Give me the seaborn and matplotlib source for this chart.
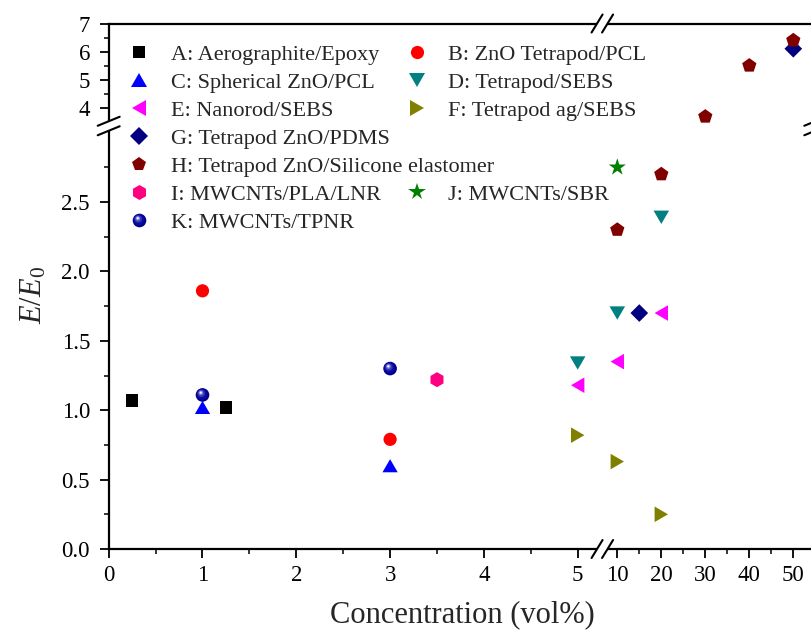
import numpy as np
import matplotlib
matplotlib.use("Agg")
import matplotlib.pyplot as plt
import matplotlib.transforms as mtransforms
from matplotlib.markers import MarkerStyle
from matplotlib.lines import Line2D
from matplotlib.path import Path
from matplotlib.patches import PathPatch
import seaborn as sns

# ---------------- data ----------------
a_x = [0.25, 1.25]
a_y = [1.07, 1.02]
b_x = [1, 3]
b_y = [1.86, 0.79]
c_x = [1, 3]
c_y = [1.02, 0.60]
d_x = [5, 10, 20]
d_y = [1.34, 1.70, 2.39]
e_x = [5, 10, 20]
e_y = [1.18, 1.35, 1.70]
f_x = [5, 10, 20]
f_y = [0.82, 0.63, 0.25]
g_x = [15, 50]
g_y = [1.70, 6.10]
h_x = [10, 20, 30, 40, 50]
h_y = [2.30, 2.70, 3.68, 5.50, 6.40]
i_x = [3.5]
i_y = [1.22]
j_x = [10]
j_y = [2.75]
k_x = [1, 3]
k_y = [1.11, 1.30]

labels = {
    "A": "A: Aerographite/Epoxy",
    "B": "B: ZnO Tetrapod/PCL",
    "C": "C: Spherical ZnO/PCL",
    "D": "D: Tetrapod/SEBS",
    "E": "E: Nanorod/SEBS",
    "F": "F: Tetrapod ag/SEBS",
    "G": "G: Tetrapod ZnO/PDMS",
    "H": "H: Tetrapod ZnO/Silicone elastomer",
    "I": "I: MWCNTs/PLA/LNR",
    "J": "J: MWCNTs/SBR",
    "K": "K: MWCNTs/TPNR",
}

x_major = [0, 1, 2, 3, 4, 5, 10, 20, 30, 40, 50]
x_minor = [0.5, 1.5, 2.5, 3.5, 4.5, 15, 25, 35, 45]
x_ticklabels = ["0", "1", "2", "3", "4", "5", "10", "20", "30", "40", "50"]
y_major = [0, 0.5, 1.0, 1.5, 2.0, 2.5, 4, 5, 6, 7]
y_minor = [0.25, 0.75, 1.25, 1.75, 2.25, 2.75, 4.5, 5.5, 6.5]
y_ticklabels = ["0.0", "0.5", "1.0", "1.5", "2.0", "2.5", "4", "5", "6", "7"]

# ---------------- style ----------------
sns.set_theme(style="ticks")
plt.rcParams["font.family"] = ["Liberation Serif", "DejaVu Serif"]
plt.rcParams["mathtext.fontset"] = "custom"
plt.rcParams["mathtext.rm"] = "Liberation Serif"
plt.rcParams["mathtext.it"] = "Liberation Serif:italic"

# ---------------- broken-axis scales ----------------
# piecewise-linear maps: compressed segment beyond the break
XB_LO, XB_HI, X_K = 5.26, 6.65, 0.04691
YB_LO, YB_HI, Y_K = 3.045, 3.356, 0.2020
BIG = 1e4

xd = np.array([-BIG, XB_LO, XB_HI, BIG])
xt = np.array([-BIG, XB_LO, XB_LO + 0.005, XB_LO + 0.005 + (BIG - XB_HI) * X_K])
yd = np.array([-BIG, YB_LO, YB_HI, BIG])
yt = np.array([-BIG, YB_LO, YB_LO + 0.005, YB_LO + 0.005 + (BIG - YB_HI) * Y_K])


def fx(v):
    return np.interp(v, xd, xt)


def ix(v):
    return np.interp(v, xt, xd)


def fy(v):
    return np.interp(v, yd, yt)


def iy(v):
    return np.interp(v, yt, yd)


W, H = 811, 630
fig = plt.figure(figsize=(W / 100, H / 100), dpi=100)
left_px, right_px, bottom_px, top_px = 108.7, 815.3, 549.0, 23.5
ax = fig.add_axes([left_px / W, 1 - bottom_px / H,
                   (right_px - left_px) / W, (bottom_px - top_px) / H])
ax.set_xscale("function", functions=(fx, ix))
ax.set_yscale("function", functions=(fy, iy))

# ---------------- markers ----------------
tri_h = 0.86
m_up = MarkerStyle("^", transform=mtransforms.Affine2D().scale(1, tri_h))
m_down = MarkerStyle("v", transform=mtransforms.Affine2D().scale(1, tri_h))
m_left = MarkerStyle("<", transform=mtransforms.Affine2D().scale(tri_h, 1))
m_right = MarkerStyle(">", transform=mtransforms.Affine2D().scale(tri_h, 1))

series = [
    ("A", a_x, a_y, MarkerStyle("s"), "#000000", 8.8),
    ("B", b_x, b_y, MarkerStyle("o"), "#FF0000", 9.5),
    ("C", c_x, c_y, m_up, "#0000FF", 11.0),
    ("D", d_x, d_y, m_down, "#008080", 11.2),
    ("E", e_x, e_y, m_left, "#FF00FF", 11.2),
    ("F", f_x, f_y, m_right, "#808000", 11.2),
    ("G", g_x, g_y, MarkerStyle("D"), "#000080", 9.0),
    ("H", h_x, h_y, MarkerStyle("p"), "#800000", 10.8),
    ("I", i_x, i_y, MarkerStyle("h"), "#FF0080", 10.8),
    ("J", j_x, j_y, MarkerStyle("*"), "#008000", 13.0),
]

# shaded sphere for K: stacked discs drifting toward the highlight
sphere_layers = [
    (1.00, 0.00, 0.00, "#00008C"),
    (0.80, -0.04, 0.05, "#0A0AA0"),
    (0.55, -0.09, 0.11, "#3535B8"),
    (0.34, -0.12, 0.15, "#8080D8"),
    (0.16, -0.13, 0.17, "#FFFFFF"),
]
k_size = 9.8
k_markers = [
    (MarkerStyle("o", transform=mtransforms.Affine2D().scale(s).translate(tx, ty)), c)
    for s, tx, ty, c in sphere_layers
]

for key, xs, ys, mk, col, ms in series:
    sns.scatterplot(x=xs, y=ys, marker=mk, color=col, s=ms ** 2,
                    linewidth=0, edgecolor="none", ax=ax, zorder=3, legend=False)
for mk, col in k_markers:
    sns.scatterplot(x=k_x, y=k_y, marker=mk, color=col, s=k_size ** 2,
                    linewidth=0, edgecolor="none", ax=ax, zorder=4, legend=False)

# ---------------- axes ----------------
ax.set_xlim(0, 55)
ax.set_ylim(0, 7)
ax.set_xticks(x_major)
ax.set_xticklabels(x_ticklabels)
ax.set_xticks(x_minor, minor=True)
ax.set_yticks(y_major)
ax.set_yticklabels(y_ticklabels)
ax.set_yticks(y_minor, minor=True)

for sp in ax.spines.values():
    sp.set_linewidth(1.6)
    sp.set_color("black")
ax.tick_params(which="major", direction="out", length=6.8, width=1.3,
               labelsize=16.5, colors="black")
ax.tick_params(which="minor", direction="out", length=3.6, width=1.3)
ax.tick_params(axis="x", which="major", pad=5.0)
ax.tick_params(axis="y", which="major", pad=6.7)
ax.tick_params(top=False, right=False, which="both")

ax.set_xlabel("Concentration (vol%)", fontsize=22, labelpad=10)
ax.set_ylabel(r"$E/E_0$", fontsize=22)
ax.yaxis.set_label_coords(-0.085, 0.483)
ax.grid(False)

# ---------------- break marks ----------------
def break_mark(xv, yv, dx, dy, sep, horizontal_sep):
    """Two parallel slashes across a spine with the spine blanked between them."""
    base = mtransforms.ScaledTranslation(xv, yv, ax.transData)
    tr = mtransforms.Affine2D() + base
    if horizontal_sep:
        offs = [(-sep / 2, 0), (sep / 2, 0)]
    else:
        offs = [(0, -sep / 2), (0, sep / 2)]
    (ox1, oy1), (ox2, oy2) = offs
    gap = Path([(ox1 - dx * 0.25, oy1 - dy * 0.25), (ox1 + dx * 0.25, oy1 + dy * 0.25),
                (ox2 + dx * 0.25, oy2 + dy * 0.25), (ox2 - dx * 0.25, oy2 - dy * 0.25),
                (ox1 - dx * 0.25, oy1 - dy * 0.25)])
    ax.add_patch(PathPatch(gap, facecolor="white", edgecolor="none",
                           transform=tr, clip_on=False, zorder=5))
    for ox, oy in offs:
        ax.add_line(Line2D([ox - dx / 2, ox + dx / 2], [oy - dy / 2, oy + dy / 2],
                           color="black", lw=1.5, transform=tr, clip_on=False,
                           zorder=6))


y_gap = (YB_LO + YB_HI) / 2
x_gap = (XB_LO + XB_HI) / 2
break_mark(0, y_gap, 22, 9, 9.5, False)
break_mark(55, y_gap, 22, 9, 9.5, False)
break_mark(x_gap, 0, 11, 18, 10.5, True)
break_mark(x_gap, 7, 11, 18, 10.5, True)

# ---------------- legends ----------------
def handle(mk, col, ms):
    return Line2D([], [], ls="none", marker=mk, color=col, markersize=ms,
                  markeredgewidth=0)


hmap = {key: handle(mk, col, ms) for key, _, _, mk, col, ms in series}
hmap["K"] = tuple(handle(mk, col, k_size) for mk, col in k_markers)
blank = Line2D([], [], ls="none")

left_keys = ["A", "C", "E", "G", "H", "I", "K"]
right_keys = ["B", "D", "F", None, None, "J"]

leg_kw = dict(frameon=False, fontsize=16, handlelength=1.6, handletextpad=0.62,
              labelspacing=0.34, borderpad=0, borderaxespad=0,
              loc="upper left", bbox_transform=fig.transFigure)

leg1 = ax.legend([hmap[k] for k in left_keys], [labels[k] for k in left_keys],
                 bbox_to_anchor=(121.5 / W, 1 - 44 / H), **leg_kw)
ax.add_artist(leg1)
leg2 = ax.legend([hmap[k] if k else blank for k in right_keys],
                 [labels[k] if k else " " for k in right_keys],
                 bbox_to_anchor=(399.0 / W, 1 - 44 / H), **leg_kw)

fig.savefig("out.png", dpi=100)
